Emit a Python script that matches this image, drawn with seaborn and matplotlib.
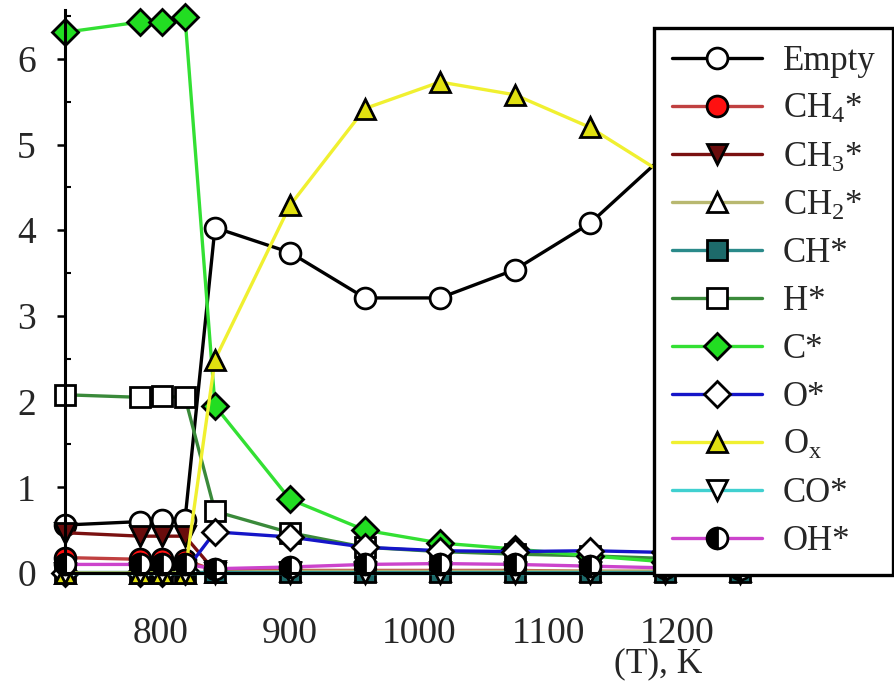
import matplotlib
matplotlib.use("Agg")
import matplotlib.pyplot as plt
import seaborn as sns
import numpy as np

# ---- data ----
temps = [750, 800, 815, 830, 850, 900, 950, 1000, 1050, 1100, 1150, 1200]
empty = [0.56, 0.60, 0.62, 0.62, 4.03, 3.74, 3.21, 3.21, 3.54, 4.08, 4.88, 5.50]
ch4 = [0.18, 0.16, 0.16, 0.15, 0.03, 0.03, 0.03, 0.03, 0.03, 0.02, 0.02, 0.02]
ch3 = [0.47, 0.43, 0.43, 0.43, 0.02, 0.01, 0.01, 0.01, 0.01, 0.01, 0.01, 0.01]
ch2 = [0.0, 0.0, 0.0, 0.0, 0.01, 0.02, 0.02, 0.02, 0.02, 0.02, 0.02, 0.02]
ch = [0.01, 0.01, 0.01, 0.01, 0.01, 0.01, 0.01, 0.01, 0.01, 0.01, 0.01, 0.01]
h = [2.08, 2.05, 2.06, 2.05, 0.72, 0.47, 0.30, 0.25, 0.22, 0.20, 0.17, 0.15]
c = [6.31, 6.43, 6.43, 6.49, 1.95, 0.86, 0.50, 0.35, 0.28, 0.20, 0.13, 0.09]
o = [0.0, 0.0, 0.0, 0.02, 0.48, 0.42, 0.30, 0.26, 0.25, 0.26, 0.24, 0.24]
ox = [0.0, 0.0, 0.0, 0.0, 2.49, 4.29, 5.42, 5.73, 5.58, 5.20, 4.65, 4.00]
co = [0.0, 0.0, 0.0, 0.0, 0.0, 0.0, 0.0, 0.0, 0.0, 0.0, 0.0, 0.0]
oh = [0.10, 0.10, 0.10, 0.10, 0.05, 0.07, 0.10, 0.11, 0.10, 0.08, 0.06, 0.05]

labels = ["Empty", r"CH$_\mathrm{4}$*", r"CH$_\mathrm{3}$*", r"CH$_\mathrm{2}$*",
          "CH*", "H*", "C*", "O*", r"O$_\mathrm{x}$", "CO*", "OH*"]
series = [empty, ch4, ch3, ch2, ch, h, c, o, ox, co, oh]

xtick_pos = [814, 900, 986, 1072, 1158]
xtick_labels = ["800", "900", "1000", "1100", "1200"]
xminor = [800, 850, 900, 950, 1000, 1050, 1100, 1150, 1200, 1250]

# ---- style ----
sns.set_style("ticks")
plt.rcParams["font.family"] = ["Liberation Serif", "DejaVu Serif"]
plt.rcParams["mathtext.fontset"] = "custom"
plt.rcParams["mathtext.rm"] = "Liberation Serif"
plt.rcParams["mathtext.it"] = "Liberation Serif:italic"

styles = [
    dict(color="black", marker="o", mfc="white", ms=15),
    dict(color="#c04040", marker="o", mfc="#ff1010", ms=15),
    dict(color="#7a1010", marker="v", mfc="#6a0c0c", ms=15),
    dict(color="#b8b870", marker="^", mfc="white", ms=15),
    dict(color="#2a8a8a", marker="s", mfc="#1d6a6a", ms=14),
    dict(color="#3a8a3a", marker="s", mfc="white", ms=14),
    dict(color="#33e033", marker="D", mfc="#22dd22", ms=13),
    dict(color="#1515c8", marker="D", mfc="white", ms=13),
    dict(color="#f0f030", marker="^", mfc="#e0e010", ms=15),
    dict(color="#40d0d0", marker="v", mfc="white", ms=15),
    dict(color="#cc44cc", marker="o", mfc="black", ms=15, fillstyle="left", mfcalt="white"),
]

fig = plt.figure(figsize=(8.94, 6.93), dpi=100)
ax = fig.add_axes([65 / 894, 120 / 693, 820 / 894, 563 / 693])

for vals, lab, st in zip(series, labels, styles):
    kws = dict(color=st["color"], marker=st["marker"], markersize=st["ms"],
               markerfacecolor=st["mfc"], markeredgecolor="black",
               markeredgewidth=2.0, linewidth=2.4, clip_on=False)
    if "fillstyle" in st:
        kws["fillstyle"] = st["fillstyle"]
        kws["markerfacecoloralt"] = st["mfcalt"]
    sns.lineplot(x=temps, y=vals, ax=ax, label=lab, **kws)

ax.set_xlim(750, 1296.7)
ax.set_ylim(0, 6.57)
sns.despine(ax=ax)
for sp in ("left", "bottom"):
    ax.spines[sp].set_linewidth(2.2)
    ax.spines[sp].set_color("black")

ax.set_xticks(xtick_pos)
ax.set_xticklabels(xtick_labels)
ax.set_xticks(xminor, minor=True)
ax.tick_params(axis="x", which="major", length=0, pad=31, labelsize=27)
ax.tick_params(axis="x", which="minor", direction="in", length=3, width=1.5, color="black")
ax.set_yticks(range(0, 7))
ax.set_yticks(np.arange(0.5, 6.6, 1.0), minor=True)
ax.tick_params(axis="y", which="major", direction="out", length=6, width=1.8,
               pad=15, labelsize=27, color="black")
ax.tick_params(axis="y", which="minor", direction="in", length=4, width=1.5, color="black")

ax.set_xlabel("(T), K", fontsize=25.5)
ax.xaxis.set_label_coords(0.723, -0.132)
ax.set_ylabel("")

leg = ax.legend(loc="upper right", bbox_to_anchor=(893 / 894, (693 - 28) / 693),
                bbox_transform=fig.transFigure, fontsize=25, frameon=True,
                fancybox=False, framealpha=1, edgecolor="black",
                handlelength=2.6, handletextpad=0.6, labelspacing=0.43,
                borderpad=0.5, borderaxespad=0)
leg.get_frame().set_linewidth(2.4)
leg.set_zorder(10)

fig.savefig("out.png", dpi=100)
